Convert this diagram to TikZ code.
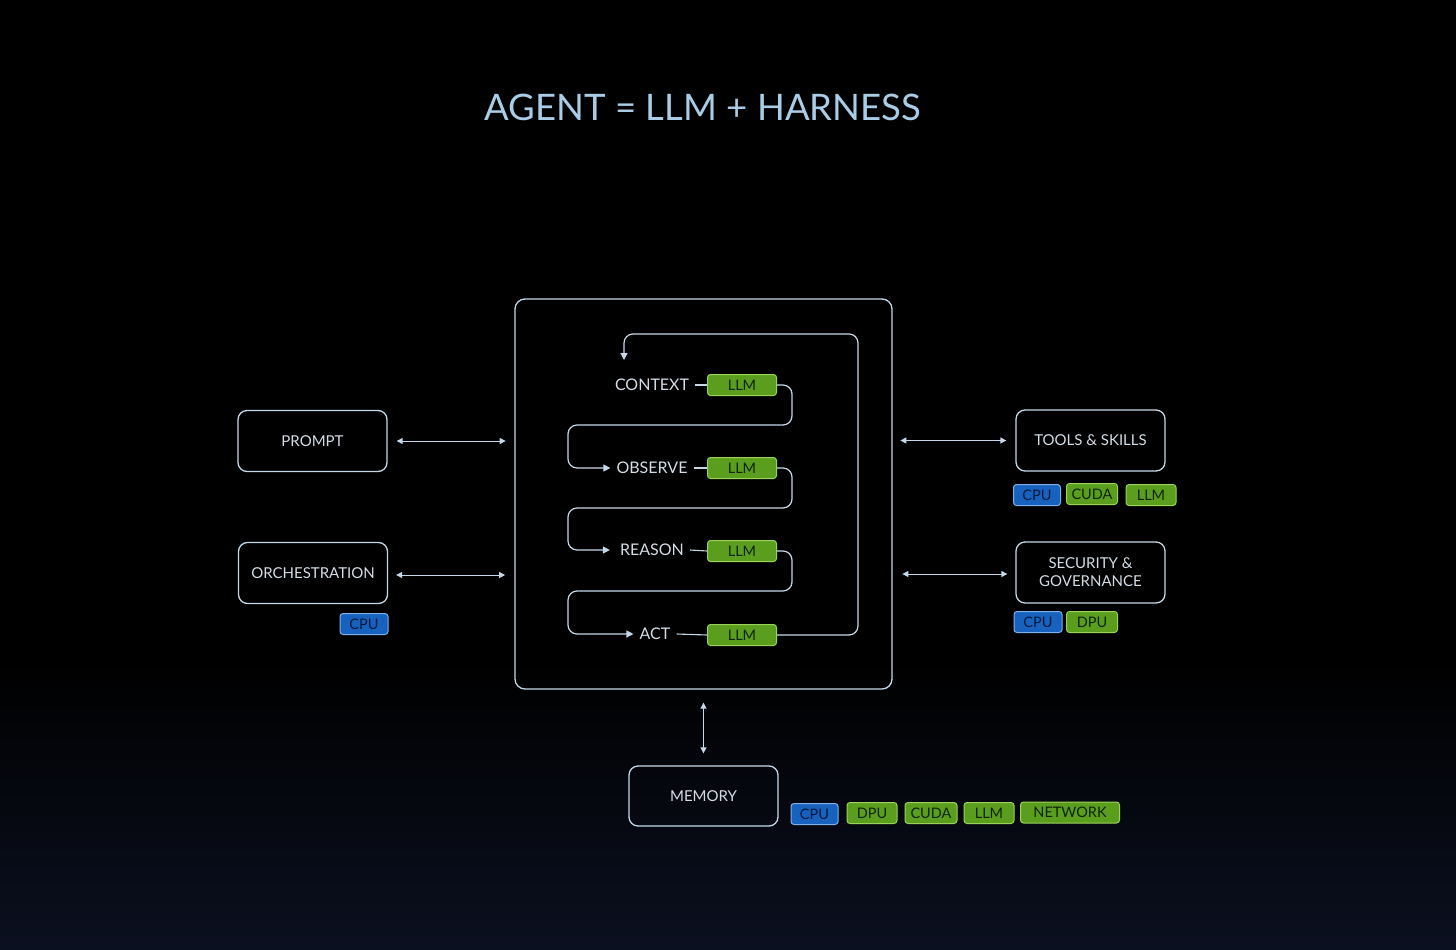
\documentclass[tikz,border=0pt]{standalone}
\usepackage{fontspec}
\setmainfont{Lato}
\usetikzlibrary{arrows.meta}
\definecolor{lineclr}{HTML}{C3D9EA}
\definecolor{txtclr}{HTML}{D3DDE6}
\definecolor{titleclr}{HTML}{A9CDE6}
\definecolor{gfill}{HTML}{5B9E1E}
\definecolor{gedge}{HTML}{9AD25A}
\definecolor{gtext}{HTML}{0E2403}
\definecolor{bfill}{HTML}{1762BF}
\definecolor{bedge}{HTML}{7FB0E8}
\definecolor{btext}{HTML}{03183A}
\definecolor{bgbot}{HTML}{0B1020}
\tikzset{
  box/.style={draw=lineclr, line width=1.3pt, rounded corners=9pt, minimum width=149pt, minimum height=61pt, text=txtclr, font=\fontsize{15}{18}\selectfont, align=center},
  gbadge/.style={fill=gfill, draw=gedge, line width=1pt, rounded corners=3pt, minimum height=21pt, inner xsep=4pt, inner ysep=0pt, text=gtext, font=\fontsize{14.5}{16}\selectfont},
  bbadge/.style={fill=bfill, draw=bedge, line width=1pt, rounded corners=3pt, minimum height=21pt, inner xsep=4pt, inner ysep=0pt, text=btext, font=\fontsize{14.5}{16}\selectfont},
  steplbl/.style={text=txtclr, font=\fontsize{16}{19}\selectfont, inner xsep=6pt, inner ysep=1pt},
  loopline/.style={draw=lineclr, line width=1.2pt, rounded corners=9pt},
  tip/.style={-{Triangle[length=7pt,width=7pt]}},
  biarrow/.style={draw=lineclr, line width=1pt, {Triangle[length=6pt,width=6pt]}-{Triangle[length=6pt,width=6pt]}}
}
\begin{document}
\begin{tikzpicture}[x=1pt,y=-1pt]
\useasboundingbox (0,0) rectangle (1456,950);
\fill[black] (0,0) rectangle (1456,950);
\shade[top color=black, bottom color=bgbot] (0,660) rectangle (1456,950);

\node[text=titleclr, font=\fontsize{36.5}{44}\selectfont] (title) at (703,107) {AGENT = LLM + HARNESS};

% harness box
\node[draw=lineclr, line width=1.3pt, rounded corners=10pt, minimum width=377pt, minimum height=390pt] (harness) at (703.5,494) {};

% loop steps
\node[steplbl] (ctx) at (652,385) {CONTEXT};
\node[gbadge, minimum width=69pt] (ctxllm) at (742,385) {LLM};
\node[steplbl] (obs) at (652,468) {OBSERVE};
\node[gbadge, minimum width=69pt] (obsllm) at (742,468) {LLM};
\node[steplbl] (rea) at (652,550) {REASON};
\node[gbadge, minimum width=69pt] (reallm) at (742,551) {LLM};
\node[steplbl] (act) at (655,634) {ACT};
\node[gbadge, minimum width=69pt] (actllm) at (742,635) {LLM};
\coordinate (ctxin) at (624,360);

\draw[lineclr, line width=1.1pt] (ctx.east) -- (ctxllm.west);
\draw[lineclr, line width=1.1pt] (obs.east) -- (obsllm.west);
\draw[lineclr, line width=1.1pt] (rea.east) -- (reallm.west);
\draw[lineclr, line width=1.1pt] (act.east) -- (actllm.west);

\draw[loopline, tip] (ctxllm.east) -- (792,385) -- (792,425) -- (568,425) -- (568,468) -- (obs.west);
\draw[loopline, tip] (obsllm.east) -- (792,468) -- (792,508) -- (568,508) -- (568,550) -- ([xshift=-4pt]rea.west);
\draw[loopline, tip] (reallm.east) -- (792,551) -- (792,591) -- (568,591) -- (568,634) -- (act.west);
\draw[loopline, tip] (actllm.east) -- (858,635) -- (858,334) -- (624,334) -- (ctxin);

% left boxes
\node[box] (prompt) at (312.5,441) {PROMPT};
\node[box] (orch) at (313,573) {ORCHESTRATION};
\node[bbadge, minimum width=48pt] (orchcpu) at (364,624) {CPU};
\draw[biarrow] ([xshift=9pt]prompt.east) -- ([xshift=118pt]prompt.east);
\draw[biarrow] ([xshift=8pt,yshift=-2pt]orch.east) -- ([xshift=117pt,yshift=-2pt]orch.east);

% right boxes
\node[box] (tools) at (1090.5,440.5) {TOOLS \& SKILLS};
\node[bbadge, minimum width=47pt] (tcpu) at (1037,495) {CPU};
\node[gbadge, minimum width=51pt] (tcuda) at (1092,494) {CUDA};
\node[gbadge, minimum width=50pt] (tllm) at (1151,495) {LLM};
\node[box] (sec) at (1090.5,572.5) {SECURITY \&\\GOVERNANCE};
\node[bbadge, minimum width=48pt] (scpu) at (1038,622) {CPU};
\node[gbadge, minimum width=51pt] (sdpu) at (1092,622) {DPU};
\draw[biarrow] ([xshift=-115pt]tools.west) -- ([xshift=-9pt]tools.west);
\draw[biarrow] ([xshift=-113pt,yshift=-1.5pt]sec.west) -- ([xshift=-8pt,yshift=-1.5pt]sec.west);

% memory
\node[box, minimum height=60pt] (mem) at (703.5,796) {MEMORY};
\draw[biarrow] ([yshift=-13pt]harness.south) -- ([yshift=12pt]mem.north);
\node[bbadge, minimum width=47pt] (mcpu) at (814.5,814) {CPU};
\node[gbadge, minimum width=50pt] (mdpu) at (872,813) {DPU};
\node[gbadge, minimum width=52pt] (mcuda) at (931,813) {CUDA};
\node[gbadge, minimum width=50pt] (mllm) at (989,813) {LLM};
\node[gbadge, minimum width=99pt] (mnet) at (1070,812.5) {NETWORK};
\end{tikzpicture}
\end{document}
